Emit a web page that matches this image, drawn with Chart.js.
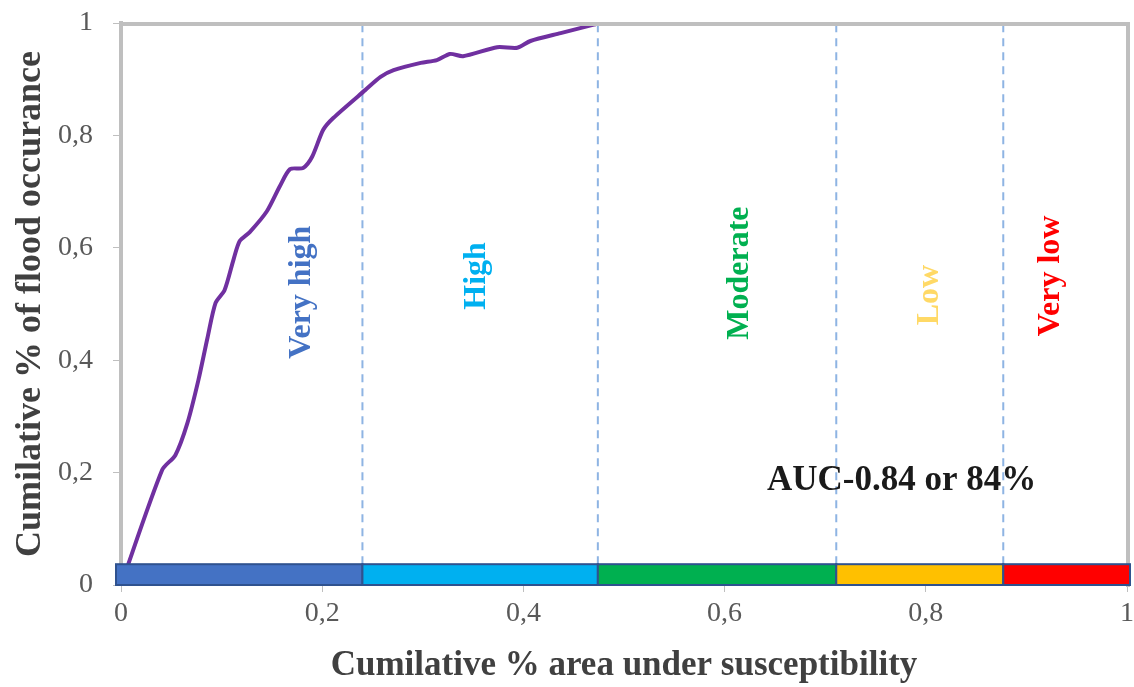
<!DOCTYPE html>
<html>
<head>
<meta charset="utf-8">
<script src="https://cdn.jsdelivr.net/npm/chart.js@4.4.1/dist/chart.umd.min.js"></script>
<style>
    body { margin: 0; background: #fff; }
    #wrap { width: 1134px; height: 687px; }
</style>
</head>
<body>
<div id="wrap"><canvas id="chartRoc" width="1134" height="687"></canvas></div>
<script>
// cumulative curve
var areaX = [0, 0.041, 0.054, 0.066, 0.077, 0.086, 0.094, 0.103, 0.112, 0.118, 0.128, 0.145, 0.158, 0.168, 0.181, 0.19, 0.201, 0.211, 0.243, 0.258, 0.271, 0.298, 0.314, 0.327, 0.34, 0.374, 0.394, 0.407, 0.437, 0.47, 0.476, 0.983];
var floodY = [0, 0.205, 0.231, 0.288, 0.365, 0.44, 0.502, 0.525, 0.58, 0.612, 0.628, 0.665, 0.71, 0.74, 0.742, 0.762, 0.81, 0.831, 0.881, 0.904, 0.916, 0.929, 0.934, 0.945, 0.941, 0.957, 0.956, 0.968, 0.982, 0.997, 1, 1];

// susceptibility classes
var classNames = ["Very high", "High", "Moderate", "Low", "Very low"];
var classBounds = [0, 0.24, 0.474, 0.711, 0.877, 1];
var bandTop = 0.037;
var aucText = "AUC-0.84 or 84%";

var classFill = ["#4472C4", "#00B0F0", "#00B050", "#FFC000", "#FF0000"];
var classText = ["#4472C4", "#00B0F0", "#00B050", "#FFD966", "#FF0000"];

var serif = "'Liberation Serif', 'Times New Roman', serif";

var curve = [];
for (var i = 0; i < areaX.length; i++) {
    curve.push({ x: areaX[i], y: floodY[i] });
}

var datasets = [{
    label: "ROC",
    data: curve,
    borderColor: "#7030A0",
    borderWidth: 4,
    pointRadius: 0,
    tension: 0.25,
    fill: false
}];

// dashed class boundaries
for (var b = 1; b < classBounds.length - 1; b++) {
    datasets.push({
        label: "bound" + b,
        data: [{ x: classBounds[b], y: bandTop }, { x: classBounds[b], y: 1 }],
        borderColor: "#8EB4E3",
        borderWidth: 2,
        borderDash: [8, 6],
        pointRadius: 0,
        fill: false
    });
}

function fmt(v) {
    return String(Math.round(v * 10) / 10).replace(".", ",");
}

var framePlugin = {
    id: "frame",
    afterDatasetsDraw: function (chart) {
        var ctx = chart.ctx;
        var xs = chart.scales.x;
        var ys = chart.scales.y;
        var a = chart.chartArea;

        // grey plot frame (top + right)
        ctx.save();
        ctx.strokeStyle = "#BFBFBF";
        ctx.lineWidth = 4;
        ctx.beginPath();
        ctx.moveTo(a.left - 2, a.top + 1);
        ctx.lineTo(a.right + 1, a.top + 1);
        ctx.lineTo(a.right + 1, a.bottom + 2);
        ctx.stroke();

        // coloured class band
        var y0 = ys.getPixelForValue(0);
        var y1 = ys.getPixelForValue(bandTop);
        for (var k = 0; k < classNames.length; k++) {
            var x0 = xs.getPixelForValue(classBounds[k]);
            var x1 = xs.getPixelForValue(classBounds[k + 1]);
            if (k === 0) x0 -= 5;
            if (k === classNames.length - 1) x1 += 3;
            ctx.fillStyle = classFill[k];
            ctx.fillRect(x0, y1, x1 - x0, y0 - y1);
            ctx.strokeStyle = "#2F528F";
            ctx.lineWidth = 2;
            ctx.strokeRect(x0, y1, x1 - x0, y0 - y1);
        }

        // class names, rotated
        var labelX = [0.18, 0.354, 0.615, 0.804, 0.924];
        var labelY = [0.521, 0.55, 0.555, 0.516, 0.55];
        ctx.font = "bold 32px " + serif;
        ctx.textAlign = "center";
        ctx.textBaseline = "middle";
        for (var n = 0; n < classNames.length; n++) {
            ctx.save();
            ctx.translate(xs.getPixelForValue(labelX[n]), ys.getPixelForValue(labelY[n]));
            ctx.rotate(-Math.PI / 2);
            ctx.fillStyle = classText[n];
            ctx.fillText(classNames[n], 0, 0);
            ctx.restore();
        }

        ctx.font = "bold 35px " + serif;
        ctx.fillStyle = "#1a1a1a";
        ctx.fillText(aucText, xs.getPixelForValue(0.776), ys.getPixelForValue(0.185));
        ctx.restore();
    }
};

var chart = new Chart(document.getElementById("chartRoc").getContext("2d"), {
    type: "line",
    data: { datasets: datasets },
    options: {
        responsive: false,
        animation: false,
        layout: { padding: { top: 23, right: 7, left: 0, bottom: 0 } },
        plugins: { legend: { display: false }, tooltip: { enabled: false } },
        scales: {
            x: {
                type: "linear",
                min: 0,
                max: 1,
                afterFit: function (scale) {
                    scale.height = 102;
                    scale.paddingLeft = 0;
                    scale.paddingRight = 0;
                },
                border: { color: "#D0D0D0", width: 2 },
                grid: { drawOnChartArea: false, tickLength: 7, color: "#BFBFBF" },
                ticks: {
                    stepSize: 0.2,
                    padding: 5,
                    color: "#595959",
                    font: { family: serif, size: 28 },
                    callback: fmt
                },
                title: {
                    display: true,
                    text: "Cumilative % area under susceptibility",
                    color: "#404040",
                    font: { family: serif, size: 35, weight: "bold" },
                    padding: { bottom: 0 }
                }
            },
            y: {
                min: 0,
                max: 1,
                afterFit: function (scale) {
                    scale.width = 121;
                    scale.paddingTop = 0;
                    scale.paddingBottom = 0;
                },
                border: { color: "#BFBFBF", width: 4 },
                grid: { drawOnChartArea: false, tickLength: 8, color: "#BFBFBF" },
                ticks: {
                    stepSize: 0.2,
                    padding: 20,
                    color: "#595959",
                    font: { family: serif, size: 28 },
                    callback: fmt
                },
                title: {
                    display: true,
                    text: "Cumilative % of flood occurance",
                    color: "#404040",
                    font: { family: serif, size: 36, weight: "bold" },
                    padding: { top: 9 }
                }
            }
        }
    },
    plugins: [framePlugin]
});
</script>
</body>
</html>
